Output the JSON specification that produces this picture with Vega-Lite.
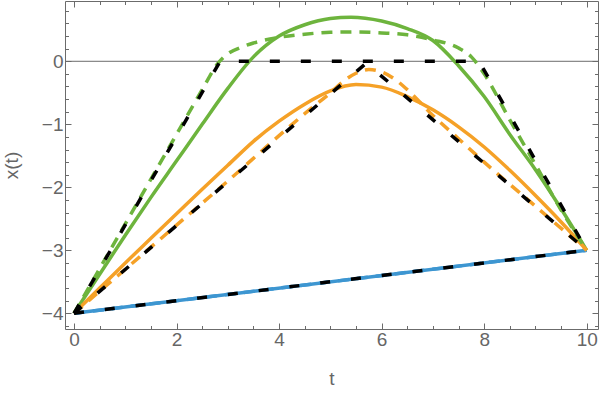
{
  "$schema": "https://vega.github.io/schema/vega-lite/v6.json",
  "width": 533,
  "height": 328,
  "autosize": {"type": "none"},
  "padding": {"left": 65, "top": 1, "right": 2, "bottom": 67},
  "config": {"view": {"stroke": "#6b6b6b", "strokeWidth": 1}, "font": "Liberation Sans"},
  "datasets": {
    "zero": [{"y": 0}],
    "curves": [
      {"s": "blue", "t": 0, "y": -4}, {"s": "blue", "t": 10, "y": -3},
      {"s": "blue_d", "t": 0, "y": -4}, {"s": "blue_d", "t": 10, "y": -3},
      {"s": "k1", "t": 0, "y": -4}, {"s": "k1", "t": 10, "y": -3},
      {"s": "k2", "t": 0, "y": -4}, {"s": "k2", "t": 5.7, "y": -0.03}, {"s": "k2", "t": 10, "y": -3},
      {"s": "k3", "t": 0, "y": -4}, {"s": "k3", "t": 2.85, "y": 0}, {"s": "k3", "t": 7.9, "y": 0}, {"s": "k3", "t": 10, "y": -3},
      {"s": "green", "t": 0, "y": -4}, {"s": "green", "t": 0.5, "y": -3.38}, {"s": "green", "t": 1, "y": -2.76},
      {"s": "green", "t": 1.5, "y": -2.16}, {"s": "green", "t": 2, "y": -1.58}, {"s": "green", "t": 2.5, "y": -1.0},
      {"s": "green", "t": 3, "y": -0.43}, {"s": "green", "t": 3.5, "y": 0.07}, {"s": "green", "t": 4, "y": 0.4},
      {"s": "green", "t": 4.5, "y": 0.58}, {"s": "green", "t": 5, "y": 0.68}, {"s": "green", "t": 5.4, "y": 0.7},
      {"s": "green", "t": 6, "y": 0.64}, {"s": "green", "t": 6.5, "y": 0.52}, {"s": "green", "t": 7, "y": 0.33},
      {"s": "green", "t": 7.5, "y": -0.07}, {"s": "green", "t": 8, "y": -0.56}, {"s": "green", "t": 8.5, "y": -1.16},
      {"s": "green", "t": 9, "y": -1.72}, {"s": "green", "t": 9.5, "y": -2.34}, {"s": "green", "t": 10, "y": -3},
      {"s": "green_d", "t": 0, "y": -4}, {"s": "green_d", "t": 0.5, "y": -3.29}, {"s": "green_d", "t": 1, "y": -2.58},
      {"s": "green_d", "t": 1.5, "y": -1.87}, {"s": "green_d", "t": 2, "y": -1.16}, {"s": "green_d", "t": 2.5, "y": -0.45},
      {"s": "green_d", "t": 2.8, "y": -0.04}, {"s": "green_d", "t": 3, "y": 0.12}, {"s": "green_d", "t": 3.25, "y": 0.22},
      {"s": "green_d", "t": 3.5, "y": 0.29}, {"s": "green_d", "t": 4, "y": 0.38}, {"s": "green_d", "t": 4.5, "y": 0.43},
      {"s": "green_d", "t": 5, "y": 0.46}, {"s": "green_d", "t": 5.5, "y": 0.465}, {"s": "green_d", "t": 6, "y": 0.45},
      {"s": "green_d", "t": 6.5, "y": 0.42}, {"s": "green_d", "t": 7, "y": 0.34}, {"s": "green_d", "t": 7.5, "y": 0.21},
      {"s": "green_d", "t": 7.75, "y": 0.07}, {"s": "green_d", "t": 8, "y": -0.2}, {"s": "green_d", "t": 8.5, "y": -0.93},
      {"s": "green_d", "t": 9, "y": -1.64}, {"s": "green_d", "t": 9.5, "y": -2.36}, {"s": "green_d", "t": 10, "y": -3},
      {"s": "orange", "t": 0, "y": -4}, {"s": "orange", "t": 0.5, "y": -3.6}, {"s": "orange", "t": 1, "y": -3.2},
      {"s": "orange", "t": 1.5, "y": -2.81}, {"s": "orange", "t": 2, "y": -2.42}, {"s": "orange", "t": 2.5, "y": -2.03},
      {"s": "orange", "t": 3, "y": -1.65}, {"s": "orange", "t": 3.5, "y": -1.27}, {"s": "orange", "t": 4, "y": -0.95},
      {"s": "orange", "t": 4.5, "y": -0.68}, {"s": "orange", "t": 5, "y": -0.47}, {"s": "orange", "t": 5.5, "y": -0.37},
      {"s": "orange", "t": 6, "y": -0.41}, {"s": "orange", "t": 6.5, "y": -0.56}, {"s": "orange", "t": 7, "y": -0.77},
      {"s": "orange", "t": 7.5, "y": -1.04}, {"s": "orange", "t": 8, "y": -1.36}, {"s": "orange", "t": 8.5, "y": -1.73},
      {"s": "orange", "t": 9, "y": -2.13}, {"s": "orange", "t": 9.5, "y": -2.55}, {"s": "orange", "t": 10, "y": -3},
      {"s": "orange_d", "t": 0, "y": -4}, {"s": "orange_d", "t": 0.5, "y": -3.65}, {"s": "orange_d", "t": 1, "y": -3.3},
      {"s": "orange_d", "t": 2, "y": -2.6}, {"s": "orange_d", "t": 3, "y": -1.9}, {"s": "orange_d", "t": 4, "y": -1.18},
      {"s": "orange_d", "t": 4.5, "y": -0.83}, {"s": "orange_d", "t": 5, "y": -0.5}, {"s": "orange_d", "t": 5.25, "y": -0.32},
      {"s": "orange_d", "t": 5.5, "y": -0.19}, {"s": "orange_d", "t": 5.75, "y": -0.13}, {"s": "orange_d", "t": 6, "y": -0.17},
      {"s": "orange_d", "t": 6.25, "y": -0.28}, {"s": "orange_d", "t": 6.5, "y": -0.45}, {"s": "orange_d", "t": 7, "y": -0.86},
      {"s": "orange_d", "t": 7.5, "y": -1.23}, {"s": "orange_d", "t": 8, "y": -1.6}, {"s": "orange_d", "t": 9, "y": -2.3},
      {"s": "orange_d", "t": 10, "y": -3}
    ]
  },
  "resolve": {"axis": {"x": "independent", "y": "independent"}},
  "layer": [
    {
      "data": {"name": "zero"},
      "mark": {"type": "rule", "color": "#6b6b6b", "strokeWidth": 1},
      "encoding": {
        "y": {"field": "y", "type": "quantitative", "scale": {"domain": [-4.249, 0.957], "nice": false, "zero": false}, "axis": null}
      }
    },
    {
      "data": {"name": "curves"},
      "transform": [{"filter": {"field": "s", "oneOf": ["blue", "orange", "green"]}}],
      "mark": {"type": "line", "strokeWidth": 3.5, "interpolate": "monotone"},
      "encoding": {
        "x": {"field": "t", "type": "quantitative", "scale": {"domain": [-0.176, 10.22], "nice": false, "zero": false},
          "axis": {"orient": "bottom", "values": [0, 0.5, 1, 1.5, 2, 2.5, 3, 3.5, 4, 4.5, 5, 5.5, 6, 6.5, 7, 7.5, 8, 8.5, 9, 9.5, 10],
            "labelExpr": "datum.value % 2 === 0 ? format(datum.value, 'd') : ''",
            "tickSize": {"condition": {"test": "datum.value % 2 === 0", "value": -6}, "value": -3.5},
            "tickColor": "#6b6b6b", "tickWidth": 1, "domain": false, "grid": false,
            "labelColor": "#666666", "labelFontSize": 19, "labelPadding": 7, "labelFlush": false, "labelOverlap": false,
            "title": "t", "titleFontSize": 19, "titleFontWeight": "normal", "titleColor": "#666666", "titlePadding": 18}},
        "y": {"field": "y", "type": "quantitative", "scale": {"domain": [-4.249, 0.957], "nice": false, "zero": false},
          "axis": {"orient": "left", "values": [-4.2, -4, -3.8, -3.6, -3.4, -3.2, -3, -2.8, -2.6, -2.4, -2.2, -2, -1.8, -1.6, -1.4, -1.2, -1, -0.8, -0.6, -0.4, -0.2, 0, 0.2, 0.4, 0.6, 0.8],
            "labelExpr": "abs(datum.value - round(datum.value)) < 0.01 ? format(datum.value, 'd') : ''",
            "tickSize": {"condition": {"test": "abs(datum.value - round(datum.value)) < 0.01", "value": -6}, "value": -3.5},
            "tickColor": "#6b6b6b", "tickWidth": 1, "domain": false, "grid": false,
            "labelColor": "#666666", "labelFontSize": 19, "labelPadding": 8, "labelFlush": false, "labelOverlap": false,
            "title": "x(t)", "titleFontSize": 19, "titleFontWeight": "normal", "titleColor": "#666666", "titlePadding": 20}},
        "color": {"field": "s", "type": "nominal", "legend": null,
          "scale": {"domain": ["blue", "orange", "green", "blue_d", "orange_d", "green_d", "k1", "k2", "k3"],
            "range": ["#3d96d1", "#f5a127", "#6db43d", "#3d96d1", "#f5a127", "#6db43d", "#000000", "#000000", "#000000"]}}
      }
    },
    {
      "data": {"name": "curves"},
      "transform": [{"filter": {"field": "s", "oneOf": ["blue_d", "orange_d", "green_d"]}}],
      "mark": {"type": "line", "strokeWidth": 3.5, "interpolate": "monotone", "strokeDash": [11, 8]},
      "encoding": {
        "x": {"field": "t", "type": "quantitative", "scale": {"domain": [-0.176, 10.22], "nice": false, "zero": false},
          "axis": {"orient": "top", "values": [0, 0.5, 1, 1.5, 2, 2.5, 3, 3.5, 4, 4.5, 5, 5.5, 6, 6.5, 7, 7.5, 8, 8.5, 9, 9.5, 10],
            "labels": false, "title": null,
            "tickSize": {"condition": {"test": "datum.value % 2 === 0", "value": -6}, "value": -3.5},
            "tickColor": "#6b6b6b", "tickWidth": 1, "domain": false, "grid": false}},
        "y": {"field": "y", "type": "quantitative", "scale": {"domain": [-4.249, 0.957], "nice": false, "zero": false},
          "axis": {"orient": "right", "values": [-4.2, -4, -3.8, -3.6, -3.4, -3.2, -3, -2.8, -2.6, -2.4, -2.2, -2, -1.8, -1.6, -1.4, -1.2, -1, -0.8, -0.6, -0.4, -0.2, 0, 0.2, 0.4, 0.6, 0.8],
            "labels": false, "title": null,
            "tickSize": {"condition": {"test": "abs(datum.value - round(datum.value)) < 0.01", "value": -6}, "value": -3.5},
            "tickColor": "#6b6b6b", "tickWidth": 1, "domain": false, "grid": false}},
        "color": {"field": "s", "type": "nominal", "legend": null}
      }
    },
    {
      "data": {"name": "curves"},
      "transform": [{"filter": {"field": "s", "oneOf": ["k1", "k2", "k3"]}}],
      "mark": {"type": "line", "strokeWidth": 3.5, "strokeDash": [10, 21]},
      "encoding": {
        "x": {"field": "t", "type": "quantitative", "axis": null},
        "y": {"field": "y", "type": "quantitative", "axis": null},
        "color": {"field": "s", "type": "nominal", "legend": null}
      }
    }
  ]
}
